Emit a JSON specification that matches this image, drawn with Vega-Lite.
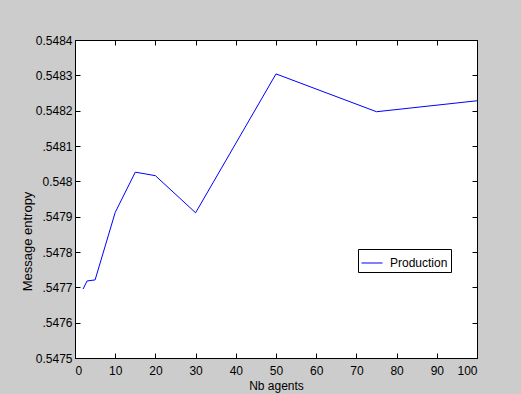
{
  "$schema": "https://vega.github.io/schema/vega-lite/v6.json",
  "width": 402,
  "height": 318,
  "autosize": {"type": "none"},
  "padding": {"left": 75, "top": 40, "right": 44, "bottom": 36},
  "background": "#cccccc",
  "config": {
    "font": "Liberation Sans",
    "view": {"fill": "white", "stroke": "black", "strokeWidth": 1},
    "axis": {
      "grid": false,
      "domainColor": "black",
      "tickColor": "black",
      "tickSize": -5,
      "labelColor": "black",
      "labelFontSize": 12,
      "titleFontSize": 12,
      "titleFontWeight": "normal",
      "titleColor": "black",
      "labelPadding": 8
    }
  },
  "data": {
    "values": [
      {"agents": 2, "entropy": 0.547695, "series": "Production"},
      {"agents": 3, "entropy": 0.547718, "series": "Production"},
      {"agents": 5, "entropy": 0.547721, "series": "Production"},
      {"agents": 10, "entropy": 0.547912, "series": "Production"},
      {"agents": 15, "entropy": 0.548026, "series": "Production"},
      {"agents": 20, "entropy": 0.548016, "series": "Production"},
      {"agents": 30, "entropy": 0.547911, "series": "Production"},
      {"agents": 50, "entropy": 0.548304, "series": "Production"},
      {"agents": 75, "entropy": 0.548197, "series": "Production"},
      {"agents": 100, "entropy": 0.548228, "series": "Production"}
    ]
  },
  "layer": [
    {
      "mark": {"type": "line", "strokeWidth": 1},
      "encoding": {
        "x": {
          "field": "agents",
          "type": "quantitative",
          "scale": {"domain": [0, 100], "nice": false},
          "axis": {
            "title": "Nb agents",
            "values": [0, 10, 20, 30, 40, 50, 60, 70, 80, 90, 100],
            "labelPadding": 12,
            "titleBaseline": "alphabetic",
            "titleY": 31
          }
        },
        "y": {
          "field": "entropy",
          "type": "quantitative",
          "scale": {"domain": [0.5475, 0.5484], "nice": false, "zero": false},
          "axis": {
            "title": "Message entropy",
            "values": [0.5475, 0.5476, 0.5477, 0.5478, 0.5479, 0.548, 0.5481, 0.5482, 0.5483, 0.5484],
            "labelExpr": "indexof(['0.5476','0.5477','0.5478','0.5479','0.5481'], format(datum.value, '.4f')) >= 0 ? substring(format(datum.value, '.4f'), 1) : (format(datum.value, '.4f') == '0.5480' ? '0.548' : format(datum.value, '.4f'))",
            "labelPadding": 8,
            "titleFontSize": 13,
            "titleX": -48,
            "titleY": 201,
            "titleAngle": 270,
            "titleBaseline": "middle",
            "titleAlign": "center"
          }
        },
        "color": {
          "field": "series",
          "type": "nominal",
          "scale": {"domain": ["Production"], "range": ["#0000ff"]},
          "legend": {
            "title": null,
            "orient": "none",
            "legendX": 283,
            "legendY": 209,
            "fillColor": "white",
            "strokeColor": "black",
            "padding": 3,
            "symbolType": "stroke",
            "symbolSize": 441,
            "symbolStrokeWidth": 1,
            "labelFontSize": 12,
            "labelColor": "black",
            "labelOffset": 7
          }
        }
      }
    },
    {
      "mark": {"type": "line", "strokeOpacity": 0},
      "encoding": {
        "x": {
          "field": "agents",
          "type": "quantitative",
          "scale": {"domain": [0, 100], "nice": false},
          "axis": {
            "orient": "top",
            "title": null,
            "labels": false,
            "values": [0, 10, 20, 30, 40, 50, 60, 70, 80, 90, 100]
          }
        },
        "y": {
          "field": "entropy",
          "type": "quantitative",
          "scale": {"domain": [0.5475, 0.5484], "nice": false, "zero": false},
          "axis": {
            "orient": "right",
            "title": null,
            "labels": false,
            "values": [0.5475, 0.5476, 0.5477, 0.5478, 0.5479, 0.548, 0.5481, 0.5482, 0.5483, 0.5484]
          }
        }
      }
    }
  ],
  "resolve": {"axis": {"x": "independent", "y": "independent"}}
}
